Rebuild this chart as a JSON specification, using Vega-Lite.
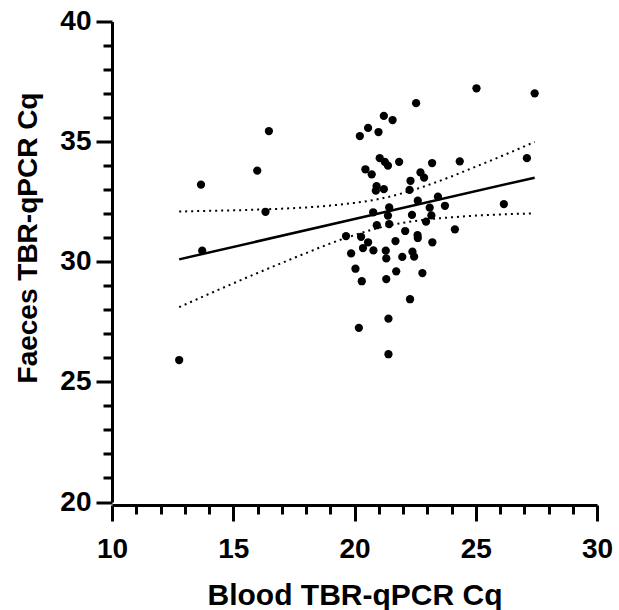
{
  "$schema": "https://vega.github.io/schema/vega-lite/v6.json",
  "width": 485,
  "height": 480.5,
  "autosize": {"type": "none"},
  "padding": {"left": 112, "top": 21.5, "right": 22, "bottom": 108},
  "background": "white",
  "config": {"view": {"stroke": null}},
  "encoding": {
    "x": {
      "field": "blood", "type": "quantitative",
      "scale": {"domain": [10, 30], "nice": false, "zero": false},
      "axis": {
        "title": "Blood TBR-qPCR Cq",
        "values": [10,11,12,13,14,15,16,17,18,19,20,21,22,23,24,25,26,27,28,29,30],
        "labelExpr": "datum.value % 5 === 0 ? datum.label : ''",
        "grid": false,
        "domainColor": "black", "domainWidth": 3,
        "tickColor": "black", "tickWidth": 3,
        "tickSize": {"condition": {"test": "datum.value % 5 === 0", "value": 16}, "value": 9},
        "labelFont": "Liberation Sans", "labelFontWeight": "bold", "labelFontSize": 28, "labelColor": "black",
        "labelPadding": 14, "labelFlush": false, "labelOverlap": false,
        "offset": 3,
        "titleFont": "Liberation Sans", "titleFontWeight": "bold", "titleFontSize": 30, "titleColor": "black",
        "titleBaseline": "alphabetic", "titleY": 99.5
      }
    },
    "y": {
      "field": "cq", "type": "quantitative",
      "scale": {"domain": [20, 40], "nice": false, "zero": false},
      "axis": {
        "title": "Faeces TBR-qPCR Cq",
        "values": [20,21,22,23,24,25,26,27,28,29,30,31,32,33,34,35,36,37,38,39,40],
        "labelExpr": "datum.value % 5 === 0 ? datum.label : ''",
        "grid": false,
        "domainColor": "black", "domainWidth": 3,
        "tickColor": "black", "tickWidth": 3,
        "tickSize": {"condition": {"test": "datum.value % 5 === 0", "value": 16}, "value": 9},
        "labelFont": "Liberation Sans", "labelFontWeight": "bold", "labelFontSize": 28, "labelColor": "black",
        "labelPadding": 5, "labelFlush": false, "labelOverlap": false,
        "titleFont": "Liberation Sans", "titleFontWeight": "bold", "titleFontSize": 28, "titleColor": "black",
        "titleBaseline": "alphabetic", "titleX": -76, "titleY": 216, "titleAngle": -90
      }
    }
  },
  "layer": [
    {
      "data": {"values": [
        {"blood": 25.03, "cq": 37.22}, {"blood": 27.43, "cq": 37.01}, {"blood": 22.54, "cq": 36.60},
        {"blood": 21.21, "cq": 36.07}, {"blood": 21.57, "cq": 35.90}, {"blood": 20.56, "cq": 35.57},
        {"blood": 20.22, "cq": 35.23}, {"blood": 20.99, "cq": 35.40}, {"blood": 21.04, "cq": 34.31},
        {"blood": 21.25, "cq": 34.16}, {"blood": 21.38, "cq": 34.00}, {"blood": 21.84, "cq": 34.16},
        {"blood": 23.20, "cq": 34.11}, {"blood": 24.34, "cq": 34.18}, {"blood": 20.45, "cq": 33.85},
        {"blood": 20.71, "cq": 33.64}, {"blood": 22.72, "cq": 33.72}, {"blood": 22.87, "cq": 33.50},
        {"blood": 22.31, "cq": 33.37}, {"blood": 20.91, "cq": 33.15}, {"blood": 20.88, "cq": 32.96},
        {"blood": 21.21, "cq": 33.02}, {"blood": 22.27, "cq": 32.99}, {"blood": 22.61, "cq": 32.54},
        {"blood": 23.44, "cq": 32.71}, {"blood": 23.10, "cq": 32.25}, {"blood": 23.73, "cq": 32.33},
        {"blood": 21.43, "cq": 32.26}, {"blood": 20.77, "cq": 32.06}, {"blood": 21.38, "cq": 31.92},
        {"blood": 23.17, "cq": 31.93}, {"blood": 22.37, "cq": 31.95}, {"blood": 22.95, "cq": 31.67},
        {"blood": 21.43, "cq": 31.57}, {"blood": 20.92, "cq": 31.52}, {"blood": 19.65, "cq": 31.07},
        {"blood": 20.27, "cq": 31.04}, {"blood": 20.56, "cq": 30.81}, {"blood": 20.35, "cq": 30.57},
        {"blood": 20.78, "cq": 30.47}, {"blood": 19.86, "cq": 30.35}, {"blood": 22.09, "cq": 31.28},
        {"blood": 22.60, "cq": 31.11}, {"blood": 22.61, "cq": 30.99}, {"blood": 24.14, "cq": 31.35},
        {"blood": 23.21, "cq": 30.81}, {"blood": 21.69, "cq": 30.86}, {"blood": 21.29, "cq": 30.46},
        {"blood": 21.31, "cq": 30.14}, {"blood": 21.97, "cq": 30.20}, {"blood": 22.39, "cq": 30.42},
        {"blood": 22.46, "cq": 30.21}, {"blood": 20.04, "cq": 29.71}, {"blood": 21.72, "cq": 29.60},
        {"blood": 22.80, "cq": 29.53}, {"blood": 20.30, "cq": 29.19}, {"blood": 21.31, "cq": 29.28},
        {"blood": 22.29, "cq": 28.44}, {"blood": 21.40, "cq": 27.63}, {"blood": 20.18, "cq": 27.25},
        {"blood": 21.40, "cq": 26.15}, {"blood": 16.47, "cq": 35.44}, {"blood": 15.99, "cq": 33.79},
        {"blood": 13.67, "cq": 33.21}, {"blood": 16.33, "cq": 32.08}, {"blood": 13.72, "cq": 30.46},
        {"blood": 12.77, "cq": 25.91}, {"blood": 27.11, "cq": 34.31}, {"blood": 26.16, "cq": 32.40}
      ]},
      "mark": {"type": "point", "shape": "circle", "filled": true, "color": "black", "size": 68, "opacity": 1}
    },
    {
      "data": {"values": [
        {"blood": 12.77, "cq": 30.10}, {"blood": 27.43, "cq": 33.50}
      ]},
      "mark": {"type": "line", "color": "black", "strokeWidth": 2.5}
    },
    {
      "data": {"values": [
        {"blood": 12.77, "cq": 32.09, "band": "upper"}, {"blood": 14, "cq": 32.12, "band": "upper"},
        {"blood": 15, "cq": 32.14, "band": "upper"}, {"blood": 16, "cq": 32.17, "band": "upper"},
        {"blood": 17, "cq": 32.21, "band": "upper"}, {"blood": 18, "cq": 32.26, "band": "upper"},
        {"blood": 19, "cq": 32.34, "band": "upper"}, {"blood": 20, "cq": 32.45, "band": "upper"},
        {"blood": 21, "cq": 32.61, "band": "upper"}, {"blood": 22, "cq": 32.86, "band": "upper"},
        {"blood": 23, "cq": 33.18, "band": "upper"}, {"blood": 24, "cq": 33.55, "band": "upper"},
        {"blood": 25, "cq": 33.96, "band": "upper"}, {"blood": 26, "cq": 34.37, "band": "upper"},
        {"blood": 27.43, "cq": 34.99, "band": "upper"},
        {"blood": 12.77, "cq": 28.11, "band": "lower"}, {"blood": 14, "cq": 28.66, "band": "lower"},
        {"blood": 15, "cq": 29.10, "band": "lower"}, {"blood": 16, "cq": 29.53, "band": "lower"},
        {"blood": 17, "cq": 29.95, "band": "lower"}, {"blood": 18, "cq": 30.36, "band": "lower"},
        {"blood": 19, "cq": 30.76, "band": "lower"}, {"blood": 20, "cq": 31.11, "band": "lower"},
        {"blood": 21, "cq": 31.41, "band": "lower"}, {"blood": 22, "cq": 31.62, "band": "lower"},
        {"blood": 23, "cq": 31.76, "band": "lower"}, {"blood": 24, "cq": 31.85, "band": "lower"},
        {"blood": 25, "cq": 31.92, "band": "lower"}, {"blood": 26, "cq": 31.97, "band": "lower"},
        {"blood": 27.43, "cq": 32.01, "band": "lower"}
      ]},
      "mark": {"type": "line", "color": "black", "strokeWidth": 2, "strokeDash": [2, 4], "interpolate": "monotone"},
      "encoding": {"detail": {"field": "band", "type": "nominal"}}
    }
  ]
}
